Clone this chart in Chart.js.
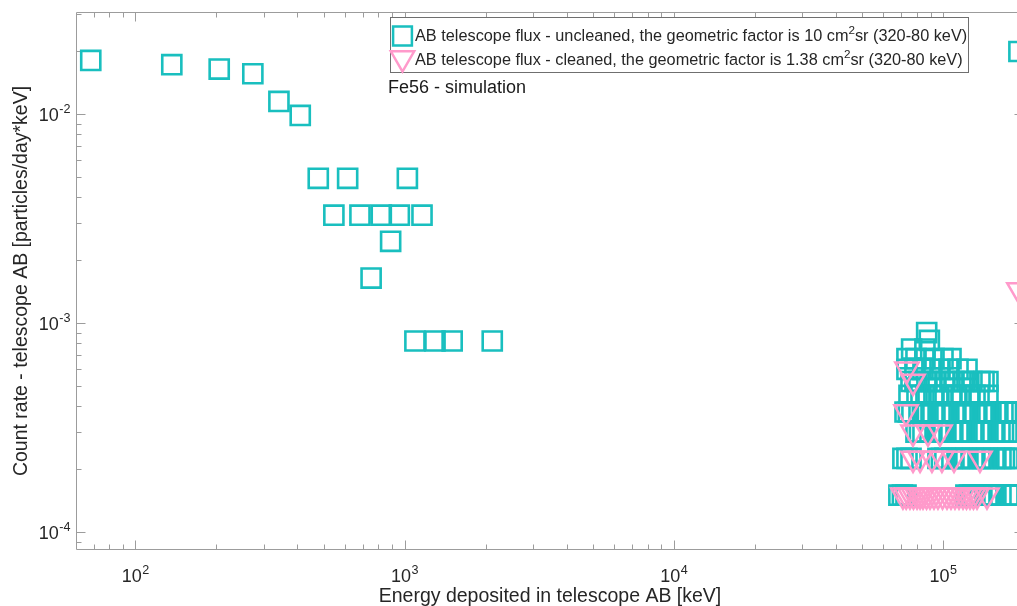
<!DOCTYPE html>
<html><head><meta charset="utf-8">
<script src="https://cdn.jsdelivr.net/npm/chart.js@4.4.0/dist/chart.umd.min.js"></script>
<style>
html,body{margin:0;padding:0;background:#fff;overflow:hidden;width:1017px;height:606px;}
#wrap{position:relative;width:1040px;height:606px;}
canvas{display:block;}
</style></head><body>
<div id="wrap"><canvas id="c" width="1040" height="606" style="width:1040px;height:606px"></canvas></div>
<script>
// ---- data ----
const uncleanedEnergy = [
  68.3, 136.6, 204.9, 273.2, 341.5, 409.8,
  478.1, 614.7, 1024.5,
  546.4, 683, 819.6, 956.2, 1161.1,
  887.9, 751.3,
  1092.8, 1297.7, 1502.6, 2117.3,
  87000,
  89000,
  76500, 85700,
  73500, 79400, 85700, 92600, 100000, 107100,
  73500, 78700, 84300, 91000, 97500, 105300, 113700, 122800,
  76100, 78700, 81500, 87200, 91000,   94200, 101700, 106200, 109900, 118700,   122800, 128100, 137200, 142000, 146900,
  74800, 80100, 82900, 86500, 92600,   96600, 100000, 108000, 112700, 116700,   126000, 131500, 136100, 146900,
  72300, 74400, 76700, 81500, 83900,   86500, 91800, 97500, 100400, 103500,   109900, 116700, 120200, 123800, 131500,   139600, 143800, 148200, 157300, 167000,   172100, 177400, 188300,
  79400, 81800, 84300, 89500, 95000,   97900, 100900, 107100, 113700, 117200,   120700, 128100, 136100, 140200, 144500,   153400, 162800, 167800, 172900, 183500,
  71000, 73500, 76100, 95800, 98700,   101700, 108000, 114700, 118200, 121700,   129300, 137200, 141400, 145700, 154700,   164200, 169200, 174300, 185100,
  68600, 70700, 72900, 121700, 125400,   129300, 137200, 145700, 150100, 154700,   164200, 174300, 179600, 185100,
  191500
];
const uncleanedRate = [
  0.01804, 0.01722, 0.0164, 0.01558, 0.01148, 0.00984,
  0.00492, 0.00492, 0.00492,
  0.00328, 0.00328, 0.00328, 0.00328, 0.00328,
  0.00246, 0.00164,
  0.00082, 0.00082, 0.00082, 0.00082,
  9.0e-4,
  8.25e-4,
  7.5e-4, 7.5e-4,
  6.75e-4, 6.75e-4, 6.75e-4, 6.75e-4, 6.75e-4, 6.75e-4,
  6.0e-4, 6.0e-4, 6.0e-4, 6.0e-4, 6.0e-4, 6.0e-4, 6.0e-4, 6.0e-4,
  5.25e-4, 5.25e-4, 5.25e-4, 5.25e-4, 5.25e-4,   5.25e-4, 5.25e-4, 5.25e-4, 5.25e-4, 5.25e-4,   5.25e-4, 5.25e-4, 5.25e-4, 5.25e-4, 5.25e-4,
  4.5e-4, 4.5e-4, 4.5e-4, 4.5e-4, 4.5e-4,   4.5e-4, 4.5e-4, 4.5e-4, 4.5e-4, 4.5e-4,   4.5e-4, 4.5e-4, 4.5e-4, 4.5e-4,
  3.75e-4, 3.75e-4, 3.75e-4, 3.75e-4, 3.75e-4,   3.75e-4, 3.75e-4, 3.75e-4, 3.75e-4, 3.75e-4,   3.75e-4, 3.75e-4, 3.75e-4, 3.75e-4, 3.75e-4,   3.75e-4, 3.75e-4, 3.75e-4, 3.75e-4, 3.75e-4,   3.75e-4, 3.75e-4, 3.75e-4,
  3.0e-4, 3.0e-4, 3.0e-4, 3.0e-4, 3.0e-4,   3.0e-4, 3.0e-4, 3.0e-4, 3.0e-4, 3.0e-4,   3.0e-4, 3.0e-4, 3.0e-4, 3.0e-4, 3.0e-4,   3.0e-4, 3.0e-4, 3.0e-4, 3.0e-4, 3.0e-4,
  2.25e-4, 2.25e-4, 2.25e-4, 2.25e-4, 2.25e-4,   2.25e-4, 2.25e-4, 2.25e-4, 2.25e-4, 2.25e-4,   2.25e-4, 2.25e-4, 2.25e-4, 2.25e-4, 2.25e-4,   2.25e-4, 2.25e-4, 2.25e-4, 2.25e-4,
  1.5e-4, 1.5e-4, 1.5e-4, 1.5e-4, 1.5e-4,   1.5e-4, 1.5e-4, 1.5e-4, 1.5e-4, 1.5e-4,   1.5e-4, 1.5e-4, 1.5e-4, 1.5e-4,
  0.0199
];
const cleanedEnergy = [
  73500,
  77400,
  72900,
  77400, 88000, 97500,
  77400, 82200, 91000, 99100, 109900, 137200,
  71000, 73000, 75400, 77700, 80100,   82200, 84300, 86900, 89500, 92600,   95800, 99600, 103500, 107100, 110800,   114700, 118700, 122300, 126000, 129800,   133800, 145700,
  191500
];
const cleanedRate = [
  6.0e-4,
  5.25e-4,
  3.75e-4,
  3.0e-4, 3.0e-4, 3.0e-4,
  2.25e-4, 2.25e-4, 2.25e-4, 2.25e-4, 2.25e-4, 2.25e-4,
  1.5e-4, 1.5e-4, 1.5e-4, 1.5e-4, 1.5e-4,   1.5e-4, 1.5e-4, 1.5e-4, 1.5e-4, 1.5e-4,   1.5e-4, 1.5e-4, 1.5e-4, 1.5e-4, 1.5e-4,   1.5e-4, 1.5e-4, 1.5e-4, 1.5e-4, 1.5e-4,   1.5e-4, 1.5e-4,
  1.44e-3
];
const xTickValues = [1e2, 1e3, 1e4, 1e5];
const xTickExponents = ['2', '3', '4', '5'];
const yTickValues = [1e-4, 1e-3, 1e-2];
const yTickExponents = ['-4', '-3', '-2'];
const tickBase = '10';
const legendUncleaned = ['AB telescope flux - uncleaned, the geometric factor is 10 cm', '2', 'sr (320-80 keV)'];
const legendCleaned = ['AB telescope flux - cleaned, the geometric factor is 1.38 cm', '2', 'sr (320-80 keV)'];
const annotationText = 'Fe56 - simulation';
const xTitle = 'Energy deposited in telescope AB [keV]';
const yTitle = 'Count rate - telescope AB [particles/day*keV]';

// ---- styles ----
const FONT = "'Liberation Sans', Arial, Helvetica, sans-serif";
const CYAN = '#19bfbf';
const PINK = '#ff9acb';
const AXIS = '#9c9c9c';
const TEXT = '#262626';

Chart.defaults.font.family = FONT;

function minorValues(min, max) {
  const out = [];
  for (let e = Math.floor(Math.log10(min)); e <= Math.ceil(Math.log10(max)); e++) {
    for (let m = 2; m <= 9; m++) {
      const v = m * Math.pow(10, e);
      if (v > min && v < max) out.push(v);
    }
  }
  return out;
}

const axisBox = {
  id: 'axisBox',
  beforeDatasetsDraw(chart) {
    const {ctx, chartArea: {left, right, top, bottom}, scales: {x, y}} = chart;
    ctx.save();
    ctx.strokeStyle = AXIS;
    ctx.lineWidth = 1;
    ctx.beginPath();
    const L = Math.round(left) + 0.5, R = Math.round(right) - 0.5, T = Math.round(top) + 0.5, B = Math.round(bottom) - 0.5;
    ctx.rect(L, T, R - L, B - T);
    const xt = (v, len) => { const p = Math.round(x.getPixelForValue(v)) + 0.5; ctx.moveTo(p, B); ctx.lineTo(p, B - len); ctx.moveTo(p, T); ctx.lineTo(p, T + len); };
    const yt = (v, len) => { const p = Math.round(y.getPixelForValue(v)) + 0.5; ctx.moveTo(L, p); ctx.lineTo(L + len, p); ctx.moveTo(R, p); ctx.lineTo(R - len, p); };
    xTickValues.forEach(v => xt(v, 9));
    minorValues(x.min, x.max).forEach(v => xt(v, 5));
    yTickValues.forEach(v => yt(v, 9));
    minorValues(y.min, y.max).forEach(v => yt(v, 5));
    ctx.stroke();

    // tick labels: "10" with a raised exponent, placed through the scales
    ctx.fillStyle = TEXT;
    ctx.textBaseline = 'alphabetic';
    ctx.textAlign = 'left';
    const baseFont = '18px ' + FONT, expFont = '12.6px ' + FONT;
    const measure = (t, f) => { ctx.font = f; return ctx.measureText(t).width; };
    xTickValues.forEach((v, i) => {
      const px = x.getPixelForValue(v);
      const wb = measure(tickBase, baseFont), we = measure(xTickExponents[i], expFont);
      const sx = px - (wb + we) / 2;
      ctx.font = baseFont; ctx.fillText(tickBase, sx, bottom + 32);
      ctx.font = expFont; ctx.fillText(xTickExponents[i], sx + wb + 0.5, bottom + 24);
    });
    yTickValues.forEach((v, i) => {
      const py = y.getPixelForValue(v);
      const wb = measure(tickBase, baseFont), we = measure(yTickExponents[i], expFont);
      const sx = left - 6 - (wb + we);
      ctx.font = baseFont; ctx.fillText(tickBase, sx, py + 7);
      ctx.font = expFont; ctx.fillText(yTickExponents[i], sx + wb + 0.5, py - 1);
    });
    ctx.restore();
  }
};

function drawRich(ctx, parts, x, y, size) {
  ctx.font = size + 'px ' + FONT;
  ctx.fillText(parts[0], x, y);
  let cx = x + ctx.measureText(parts[0]).width;
  ctx.font = (size * 0.72).toFixed(1) + 'px ' + FONT;
  ctx.fillText(parts[1], cx, y - size * 0.38);
  cx += ctx.measureText(parts[1]).width;
  ctx.font = size + 'px ' + FONT;
  ctx.fillText(parts[2], cx, y);
}

const legendBox = {
  id: 'legendBox',
  afterDraw(chart) {
    const ctx = chart.ctx;
    ctx.save();
    ctx.fillStyle = '#ffffff';
    ctx.fillRect(390.5, 17.5, 578, 55);
    ctx.strokeStyle = '#6f6f6f';
    ctx.lineWidth = 1;
    ctx.strokeRect(390.5, 17.5, 578, 55);
    ctx.fillStyle = 'rgba(0,0,0,0)';
    ctx.lineWidth = 2.5;
    ctx.strokeStyle = CYAN;
    Chart.helpers.drawPoint(ctx, {pointStyle: 'rect', radius: 13.3, borderWidth: 2.5, rotation: 0}, 402.5, 36);
    ctx.strokeStyle = PINK;
    Chart.helpers.drawPoint(ctx, {pointStyle: 'triangle', radius: 13.5, borderWidth: 2.5, rotation: 180}, 402.5, 58);
    ctx.fillStyle = TEXT;
    ctx.textBaseline = 'middle';
    ctx.textAlign = 'left';
    drawRich(ctx, legendUncleaned, 415, 37, 16.3);
    drawRich(ctx, legendCleaned, 415, 60.5, 16.3);
    ctx.font = '18px ' + FONT;
    ctx.fillStyle = '#1a1a1a';
    ctx.fillText(annotationText, 388, 88);
    ctx.restore();
  }
};

new Chart(document.getElementById('c'), {
  type: 'scatter',
  data: {
    datasets: [
      {
        label: legendUncleaned.join(''),
        order: 1,
        data: uncleanedEnergy.map((e, i) => ({x: e, y: uncleanedRate[i]})),
        pointStyle: 'rect',
        pointRadius: 13.5,
        pointHoverRadius: 13.5,
        pointBorderWidth: 2.6,
        pointBorderColor: CYAN,
        pointBackgroundColor: 'rgba(0,0,0,0)',
        borderColor: CYAN,
        backgroundColor: 'rgba(0,0,0,0)'
      },
      {
        label: legendCleaned.join(''),
        order: 0,
        data: cleanedEnergy.map((e, i) => ({x: e, y: cleanedRate[i]})),
        pointStyle: 'triangle',
        pointRotation: 180,
        rotation: 180,
        pointRadius: 13.5,
        pointHoverRadius: 13.5,
        pointBorderWidth: 2.5,
        pointBorderColor: PINK,
        pointBackgroundColor: 'rgba(0,0,0,0)',
        borderColor: PINK,
        backgroundColor: 'rgba(0,0,0,0)'
      }
    ]
  },
  options: {
    responsive: false,
    animation: false,
    devicePixelRatio: 1,
    events: [],
    layout: {autoPadding: false, padding: {left: 0, right: 16, top: 12, bottom: 0}},
    plugins: {legend: {display: false}, tooltip: {enabled: false}},
    scales: {
      x: {
        type: 'logarithmic',
        position: 'bottom',
        min: 60.2,
        max: 2e5,
        afterBuildTicks: s => { s.ticks = xTickValues.map(v => ({value: v})); },
        afterFit: s => { s.height = 56; s.paddingLeft = 0; s.paddingRight = 0; },
        grid: {display: false, drawTicks: false},
        border: {display: false},
        ticks: {display: false},
        title: {display: true, text: xTitle, color: TEXT, font: {size: 19.5, lineHeight: 1}, padding: {top: 0, bottom: 0}}
      },
      y: {
        type: 'logarithmic',
        position: 'left',
        min: 8.2e-5,
        max: 0.03076,
        afterBuildTicks: s => { s.ticks = yTickValues.map(v => ({value: v})); },
        afterFit: s => { s.width = 76; s.paddingTop = 0; s.paddingBottom = 0; },
        grid: {display: false, drawTicks: false},
        border: {display: false},
        ticks: {display: false},
        title: {display: true, text: yTitle, color: TEXT, font: {size: 19.5, lineHeight: 1}, padding: {top: 12, bottom: 0}}
      }
    }
  },
  plugins: [axisBox, legendBox]
});
</script>
</body></html>
